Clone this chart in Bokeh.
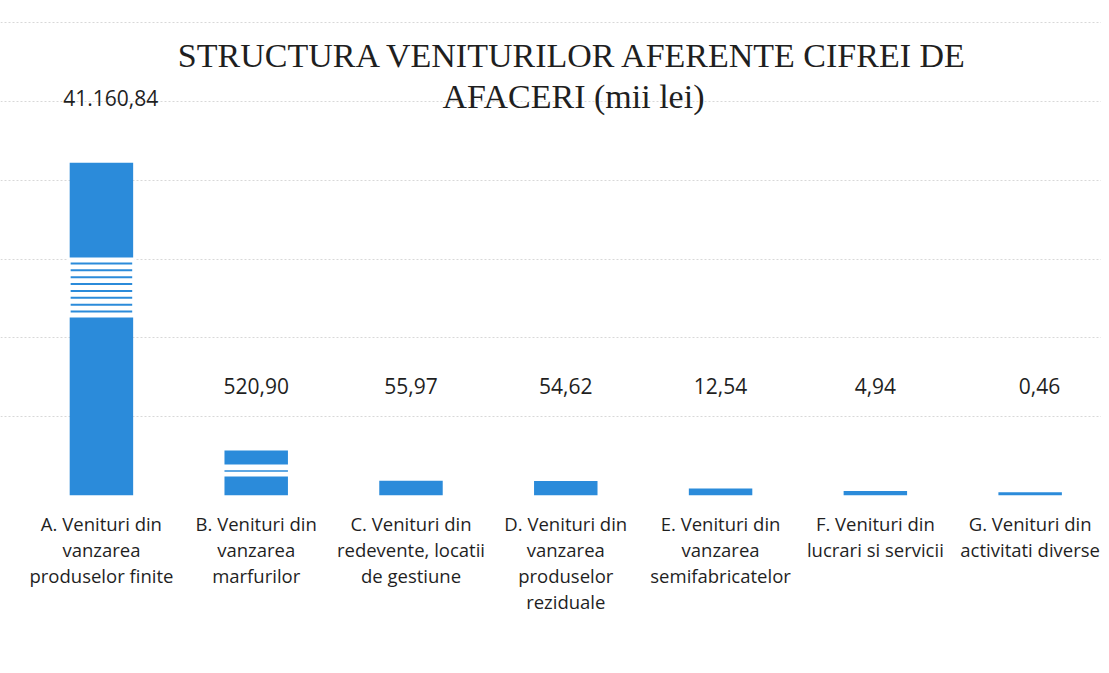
import numpy as np
from bokeh.plotting import figure
from bokeh.models import FixedTicker, Grid, Label
from bokeh.embed import file_html
from bokeh.resources import INLINE

# ---- data ----
categories = [
    "A. Venituri din\nvanzarea\nproduselor finite",
    "B. Venituri din\nvanzarea\nmarfurilor",
    "C. Venituri din\nredevente, locatii\nde gestiune",
    "D. Venituri din\nvanzarea\nproduselor\nreziduale",
    "E. Venituri din\nvanzarea\nsemifabricatelor",
    "F. Venituri din\nlucrari si servicii",
    "G. Venituri din\nactivitati diverse",
]
values = [41160.84, 520.90, 55.97, 54.62, 12.54, 4.94, 0.46]
value_labels = ["41.160,84", "520,90", "55,97", "54,62", "12,54", "4,94", "0,46"]
title_lines = ["STRUCTURA VENITURILOR AFERENTE CIFREI DE", "AFACERI (mii lei)"]

# ---- styles ----
BLUE = "#2B8BDA"
TEXT = "#1f1f1f"
axis_break_cut = 34.0          # broken-axis compression applied to the tallest bar
min_visible = 1.6
bar_w = 0.41

xs = np.arange(len(values))
disp = np.sqrt(np.array(values))  # chart drawn on a compressed (sqrt) scale
disp[0] = disp[0] - axis_break_cut
disp = np.maximum(disp, min_visible)

p = figure(width=1101, height=650, output_backend="svg", toolbar_location=None,
           x_range=(-0.652, 6.461), y_range=(0, 251.3),
           y_axis_location=None, min_border_left=0, min_border_right=0,
           min_border_top=0, min_border_bottom=155)
p.outline_line_color = None
p.xgrid.visible = False
p.ygrid.visible = False
p.background_fill_color = "white"
p.border_fill_color = "white"

grid = Grid(dimension=1, ticker=FixedTicker(ticks=[0, 40, 80, 120, 160, 200, 240]),
            grid_line_color="#c8c8c8", grid_line_dash="2 2", grid_line_alpha=0.7)
p.add_layout(grid)

p.vbar(x=xs, top=disp, bottom=0, width=bar_w, color=BLUE, line_color=None)

# break marks on bar A
lo, hi = 90.4, 120.8
p.quad(left=[xs[0] - bar_w / 2 - 0.01], right=[xs[0] + bar_w / 2 + 0.01],
       bottom=[lo], top=[hi], color="white", line_color=None)
lines_y = np.linspace(lo + 3.0, hi - 3.0, 8)
p.rect(x=[xs[0]] * len(lines_y), y=lines_y, width=bar_w * 0.97, height=1.0,
       color=BLUE, line_color=None)
# break mark on bar B
p.quad(left=[xs[1] - bar_w / 2 - 0.01], right=[xs[1] + bar_w / 2 + 0.01],
       bottom=[9.6], top=[15.7], color="white", line_color=None)
p.rect(x=[xs[1]], y=[12.4], width=bar_w, height=0.8, color=BLUE, line_color=None)

# value labels
label_y = [202] + [55.8] * (len(values) - 1)
p.text(x=xs + np.array([0.06, 0, 0, 0, 0, 0, 0.06]), y=label_y, text=value_labels,
       text_align="center", text_baseline="middle", text_font_size="21px",
       text_font={"value": "Open Sans"}, text_color=TEXT)

# title
for ty, line in zip([223.5, 202.5], title_lines):
    p.add_layout(Label(x=3.05, y=ty, text=line, text_align="center",
                       text_baseline="middle", text_font="Liberation Serif",
                       text_font_size="34px", text_color=TEXT))

ax = p.xaxis[0]
ax.ticker = FixedTicker(ticks=list(xs))
ax.major_label_overrides = {int(i): c for i, c in zip(xs, categories)}
ax.axis_line_color = None
ax.major_tick_line_color = None
ax.minor_tick_line_color = None
ax.major_label_standoff = 9
ax.major_label_text_font = "Open Sans"
ax.major_label_text_font_size = "18.5px"
ax.major_label_text_color = TEXT
ax.major_label_text_line_height = 1.05

open("out.html", "w").write(file_html(p, INLINE))
